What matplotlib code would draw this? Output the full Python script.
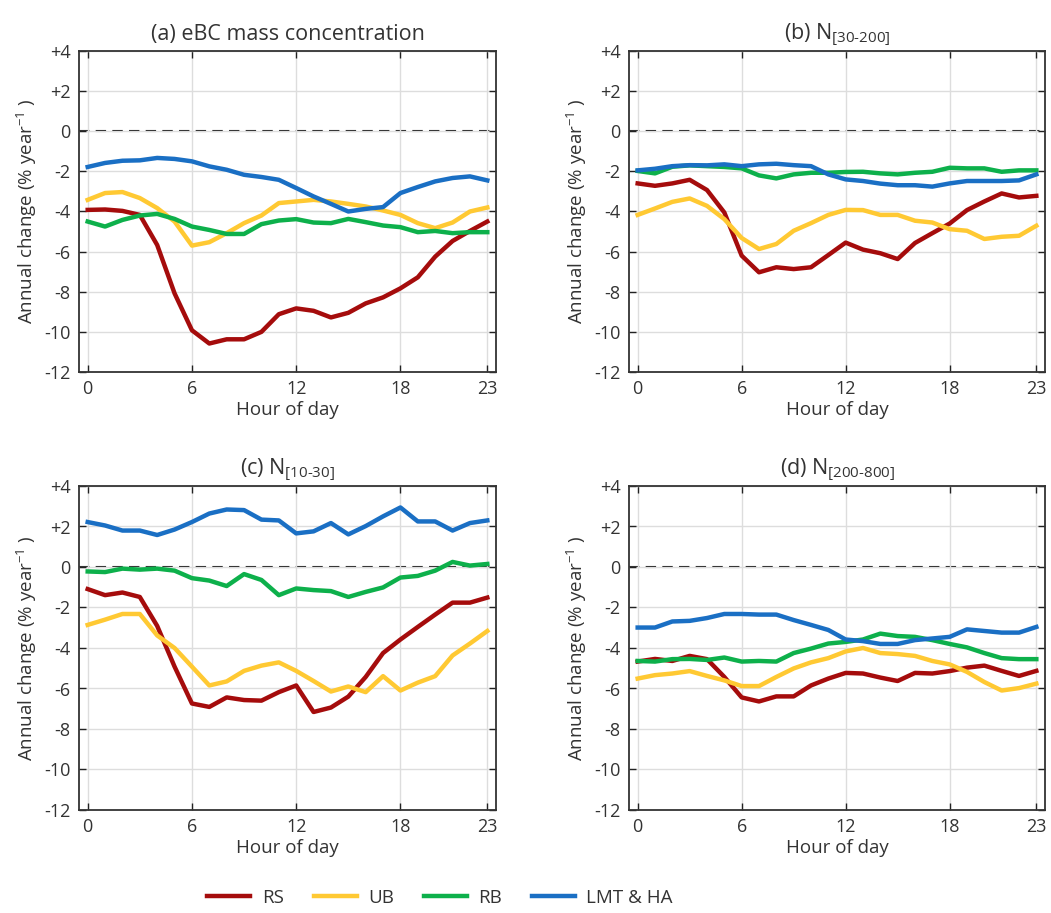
import matplotlib
matplotlib.use("Agg")
import matplotlib.pyplot as plt
import numpy as np

plt.rcParams['font.family'] = ['Open Sans', 'DejaVu Sans']
plt.rcParams['mathtext.fontset'] = 'custom'
plt.rcParams['mathtext.rm'] = 'Open Sans'
plt.rcParams['mathtext.it'] = 'Open Sans:italic'

hours = list(range(24))

# (a) eBC mass concentration
a_RS = [-3.92, -3.90, -3.97, -4.17, -5.67, -8.08, -9.92, -10.58, -10.37, -10.37, -10.0, -9.12,
        -8.83, -8.95, -9.28, -9.05, -8.58, -8.28, -7.83, -7.28, -6.25, -5.47, -4.97, -4.5]
a_UB = [-3.42, -3.08, -3.03, -3.33, -3.83, -4.5, -5.7, -5.53, -5.08, -4.58, -4.2, -3.58,
        -3.5, -3.42, -3.5, -3.62, -3.75, -3.95, -4.17, -4.58, -4.83, -4.55, -4.0, -3.8]
a_RB = [-4.5, -4.75, -4.42, -4.2, -4.12, -4.37, -4.75, -4.92, -5.12, -5.12, -4.63, -4.45,
        -4.38, -4.55, -4.58, -4.37, -4.53, -4.7, -4.78, -5.03, -4.97, -5.08, -5.03, -5.03]
a_LMT = [-1.78, -1.58, -1.47, -1.45, -1.33, -1.38, -1.5, -1.75, -1.92, -2.17, -2.28, -2.42,
         -2.83, -3.25, -3.62, -4.0, -3.87, -3.78, -3.08, -2.78, -2.5, -2.33, -2.25, -2.45]

# (b) N[30-200]
b_RS = [-2.6, -2.72, -2.6, -2.42, -2.93, -4.05, -6.2, -7.03, -6.78, -6.87, -6.78, -6.17,
        -5.55, -5.9, -6.08, -6.37, -5.57, -5.08, -4.6, -3.93, -3.5, -3.1, -3.3, -3.22]
b_UB = [-4.17, -3.85, -3.52, -3.35, -3.72, -4.38, -5.32, -5.87, -5.62, -4.96, -4.58, -4.17,
        -3.92, -3.93, -4.17, -4.17, -4.46, -4.55, -4.88, -4.96, -5.37, -5.26, -5.21, -4.71]
b_RB = [-1.98, -2.1, -1.77, -1.7, -1.74, -1.78, -1.85, -2.2, -2.35, -2.15, -2.07, -2.07,
        -2.03, -2.02, -2.1, -2.15, -2.07, -2.02, -1.82, -1.85, -1.85, -2.02, -1.95, -1.95]
b_LMT = [-1.95, -1.87, -1.74, -1.69, -1.7, -1.65, -1.74, -1.65, -1.62, -1.69, -1.74, -2.15,
         -2.4, -2.48, -2.61, -2.69, -2.69, -2.76, -2.6, -2.48, -2.48, -2.48, -2.45, -2.15]

# (c) N[10-30]
c_RS = [-1.09, -1.39, -1.26, -1.48, -2.91, -4.92, -6.74, -6.91, -6.44, -6.57, -6.6, -6.18,
        -5.85, -7.16, -6.94, -6.4, -5.43, -4.25, -3.58, -2.96, -2.35, -1.76, -1.76, -1.51]
c_UB = [-2.86, -2.6, -2.32, -2.32, -3.38, -4.0, -4.92, -5.85, -5.65, -5.13, -4.87, -4.71,
        -5.13, -5.63, -6.15, -5.9, -6.18, -5.39, -6.1, -5.71, -5.39, -4.37, -3.78, -3.16]
c_RB = [-0.22, -0.25, -0.08, -0.13, -0.08, -0.18, -0.55, -0.67, -0.94, -0.35, -0.64, -1.39,
        -1.06, -1.14, -1.19, -1.48, -1.23, -1.01, -0.52, -0.44, -0.18, 0.25, 0.07, 0.15]
c_LMT = [2.22, 2.05, 1.8, 1.8, 1.58, 1.85, 2.22, 2.64, 2.84, 2.81, 2.34, 2.3,
         1.66, 1.76, 2.17, 1.61, 2.02, 2.5, 2.94, 2.25, 2.25, 1.8, 2.17, 2.3]

# (d) N[200-800]
d_RS = [-4.67, -4.54, -4.64, -4.39, -4.55, -5.43, -6.44, -6.64, -6.39, -6.39, -5.85, -5.51,
        -5.23, -5.26, -5.46, -5.63, -5.23, -5.26, -5.14, -4.97, -4.87, -5.13, -5.38, -5.13]
d_UB = [-5.51, -5.34, -5.26, -5.14, -5.38, -5.6, -5.88, -5.88, -5.43, -5.01, -4.71, -4.5,
        -4.17, -4.0, -4.25, -4.3, -4.39, -4.64, -4.81, -5.18, -5.68, -6.1, -5.98, -5.76]
d_RB = [-4.64, -4.67, -4.55, -4.54, -4.59, -4.47, -4.67, -4.64, -4.67, -4.25, -4.03, -3.78,
        -3.7, -3.58, -3.29, -3.41, -3.45, -3.61, -3.8, -3.97, -4.25, -4.5, -4.55, -4.55]
d_LMT = [-2.99, -2.99, -2.69, -2.66, -2.52, -2.32, -2.32, -2.35, -2.35, -2.62, -2.86, -3.11,
         -3.58, -3.66, -3.8, -3.8, -3.61, -3.53, -3.45, -3.08, -3.16, -3.24, -3.24, -2.96]

series_names = ['RS', 'UB', 'RB', 'LMT & HA']
colors = ['#A50C0C', '#FFC933', '#0DB04B', '#1A6FC4']
titles = ['(a) eBC mass concentration',
          r'(b) N$_{\text{[30-200]}}$',
          r'(c) N$_{\text{[10-30]}}$',
          r'(d) N$_{\text{[200-800]}}$']
panels = [[a_RS, a_UB, a_RB, a_LMT], [b_RS, b_UB, b_RB, b_LMT],
          [c_RS, c_UB, c_RB, c_LMT], [d_RS, d_UB, d_RB, d_LMT]]
yticks = [4, 2, 0, -2, -4, -6, -8, -10, -12]
yticklabels = ['+4', '+2', '0', '-2', '-4', '-6', '-8', '-10', '-12']
xticks = [0, 6, 12, 18, 23]

W, H = 1051, 913
fig = plt.figure(figsize=(W / 100, H / 100), dpi=100)
boxes = [(79, 51, 496, 372), (629, 51, 1045, 372), (79, 486, 496, 810), (629, 486, 1045, 810)]
txt = '#333333'
lines = []
for i, (box, data) in enumerate(zip(boxes, panels)):
    l, t, r, b = box
    ax = fig.add_axes([l / W, 1 - b / H, (r - l) / W, (b - t) / H])
    ax.grid(True, color='#dddddd', lw=1.0, zorder=0)
    ax.axhline(0, color='#111111', lw=1.5, ls=(0, (5, 3)), zorder=1)
    lines = []
    for vals, c, n in zip(data, colors, series_names):
        ln, = ax.plot(hours, vals, color=c, lw=3.2, label=n, zorder=3,
                      solid_joinstyle='round')
        lines.append(ln)
    ax.set_xlim(-0.5, 23.5)
    ax.set_ylim(-12, 4)
    ax.set_xticks(xticks)
    ax.set_yticks(yticks)
    ax.set_yticklabels(yticklabels)
    ax.tick_params(direction='in', top=True, right=True, length=5, width=1,
                   labelsize=13, colors='#222222', labelcolor=txt, pad=6)
    for s in ax.spines.values():
        s.set_color('#333333')
        s.set_linewidth(1.3)
    ax.set_xlabel('Hour of day', fontsize=13.5, color=txt, labelpad=2)
    ax.set_ylabel('Annual change (% year$^{-1}$ )', fontsize=13.5, color=txt, labelpad=4)
    ax.set_title(titles[i], fontsize=15.5, color=txt, pad=8)

fig.legend(lines, series_names, loc='center', bbox_to_anchor=(440 / W, 1 - 898 / H),
           ncol=4, frameon=False, fontsize=13.5, handlelength=2.3, columnspacing=1.6,
           handletextpad=0.6, labelcolor=txt)

fig.savefig('out.png', dpi=100)
